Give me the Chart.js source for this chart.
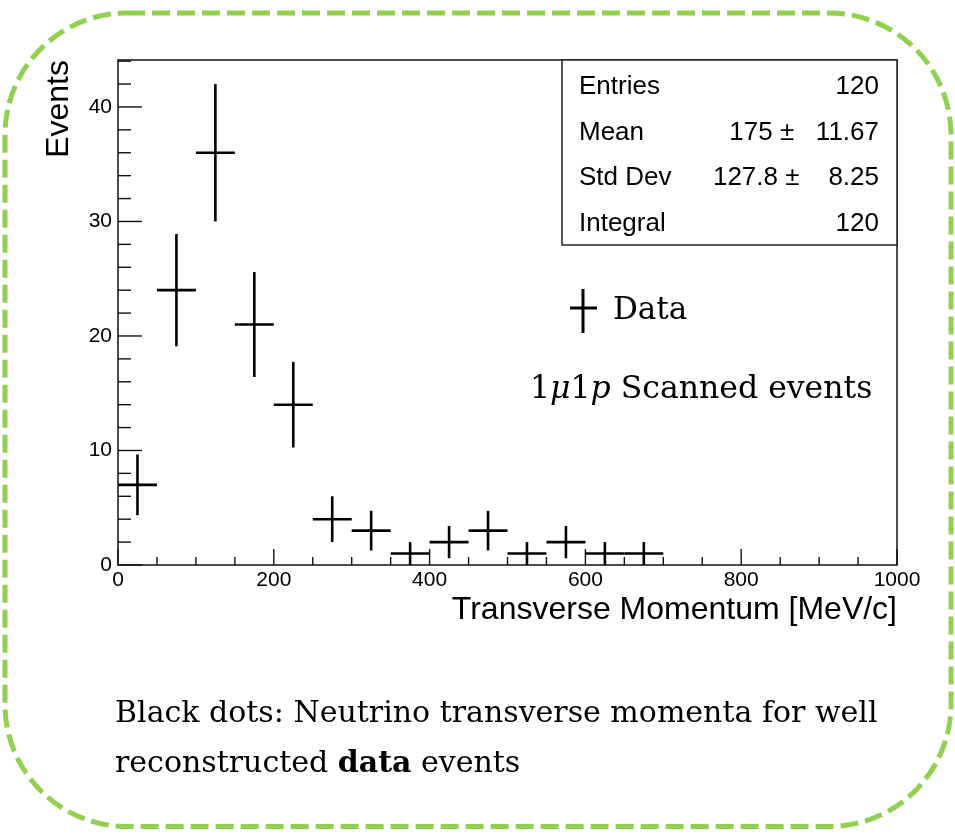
<!DOCTYPE html>
<html>
<head>
<meta charset="utf-8">
<script src="https://cdn.jsdelivr.net/npm/chart.js@4.4.0/dist/chart.umd.min.js"></script>
<style>
  html, body { margin: 0; padding: 0; background: #fff; }
  canvas { display: block; }
</style>
</head>
<body>
<canvas id="ptChart" width="955" height="834"></canvas>
<script>
// Transverse momentum histogram, 50 MeV/c bins
const binLow   = [0, 50, 100, 150, 200, 250, 300, 350, 400, 450, 500, 550, 600, 650];
const binHigh  = [50, 100, 150, 200, 250, 300, 350, 400, 450, 500, 550, 600, 650, 700];
const counts   = [7, 24, 36, 21, 14, 4, 3, 1, 2, 3, 1, 2, 1, 1];
const errors   = [2.65, 4.9, 6.0, 4.58, 3.74, 2.0, 1.73, 1.0, 1.41, 1.73, 1.0, 1.41, 1.0, 1.0];

const xTicks = [0, 200, 400, 600, 800, 1000];
const yTicks = [0, 10, 20, 30, 40];

// stats box rows; nbsp keeps the column padding
const statLabels = ['Entries', 'Mean', 'Std Dev', 'Integral'];
const statValues = ['120', '175 \u00b1\u00a0\u00a0\u00a011.67', '127.8 \u00b1\u00a0\u00a0\u00a0\u00a08.25', '120'];

const SANS = '"Liberation Sans", Arial, sans-serif';
const SERIF = '"DejaVu Serif", serif';

// dashed rounded border around the whole figure
function drawBorder(ctx) {
  const x0 = 5, y0 = 13, x1 = 951, y1 = 826.5, r = 122;
  ctx.save();
  ctx.strokeStyle = '#92d050';
  ctx.lineWidth = 5;
  ctx.setLineDash([18, 7]);
  ctx.beginPath();
  ctx.moveTo(x0 + r, y0);
  ctx.lineTo(x1 - r, y0);
  ctx.arcTo(x1, y0, x1, y0 + r, r);
  ctx.lineTo(x1, y1 - r);
  ctx.arcTo(x1, y1, x1 - r, y1, r);
  ctx.lineTo(x0 + r, y1);
  ctx.arcTo(x0, y1, x0, y1 - r, r);
  ctx.lineTo(x0, y0 + r);
  ctx.arcTo(x0, y0, x0 + r, y0, r);
  ctx.closePath();
  ctx.stroke();
  ctx.restore();
}

function line(ctx, ax, ay, bx, by) {
  ctx.beginPath();
  ctx.moveTo(ax, ay);
  ctx.lineTo(bx, by);
  ctx.stroke();
}

const rootStyle = {
  id: 'rootStyle',
  beforeDraw(chart) {
    drawBorder(chart.ctx);
  },
  afterDatasetsDraw(chart) {
    const { ctx, chartArea: a, scales: { x, y } } = chart;
    ctx.save();
    ctx.strokeStyle = '#111';
    ctx.fillStyle = '#000';

    // frame
    ctx.lineWidth = 1.5;
    ctx.strokeRect(a.left, a.top, a.right - a.left, a.bottom - a.top);

    // inward ticks, minor ones between the labelled values
    ctx.lineWidth = 1.4;
    for (let v = x.min; v <= x.max; v += 50) {
      const px = x.getPixelForValue(v);
      const len = xTicks.includes(v) ? 16 : 8;
      line(ctx, px, a.bottom, px, a.bottom - len);
    }
    for (let v = y.min; v <= y.max; v += 2) {
      const py = y.getPixelForValue(v);
      const len = yTicks.includes(v) ? 24 : 13;
      line(ctx, a.left, py, a.left + len, py);
    }

    // bin crosses: horizontal bar = bin width, vertical bar = error
    ctx.strokeStyle = '#000';
    ctx.lineWidth = 2.6;
    counts.forEach((c, i) => {
      const xl = x.getPixelForValue(binLow[i]);
      const xh = x.getPixelForValue(binHigh[i]);
      const xc = x.getPixelForValue((binLow[i] + binHigh[i]) / 2);
      const yc = y.getPixelForValue(c);
      line(ctx, xl, yc, xh, yc);
      line(ctx, xc, y.getPixelForValue(c - errors[i]), xc, y.getPixelForValue(c + errors[i]));
    });

    // statistics box
    const sx0 = 562, sy1 = 245;
    ctx.fillStyle = '#fff';
    ctx.fillRect(sx0, a.top, a.right - sx0, sy1 - a.top);
    ctx.strokeStyle = '#222';
    ctx.lineWidth = 1.5;
    ctx.strokeRect(sx0, a.top, a.right - sx0, sy1 - a.top);
    ctx.fillStyle = '#000';
    ctx.font = '26px ' + SANS;
    ctx.textBaseline = 'alphabetic';
    statLabels.forEach((lab, i) => {
      const by = 94 + i * 45.7;
      ctx.textAlign = 'left';
      ctx.fillText(lab, 579, by);
      ctx.textAlign = 'right';
      ctx.fillText(statValues[i], 879, by);
    });

    // legend entry
    ctx.strokeStyle = '#000';
    ctx.lineWidth = 3;
    line(ctx, 570, 308, 597, 308);
    line(ctx, 583, 289, 583, 333);
    ctx.textAlign = 'left';
    ctx.font = '31px ' + SERIF;
    ctx.fillText('Data', 613, 319);

    // sample label with math-italic symbols
    let tx = 530;
    const parts = [['1', ''], ['\u03bc', 'italic '], ['1', ''], ['p', 'italic '], [' Scanned events', '']];
    parts.forEach(([s, st]) => {
      ctx.font = st + '31.5px ' + SERIF;
      ctx.fillText(s, tx, 398);
      tx += ctx.measureText(s).width;
    });

    // caption under the plot
    ctx.font = '30px ' + SERIF;
    ctx.fillText('Black dots: Neutrino transverse momenta for well', 115, 722);
    tx = 115;
    [['reconstructed ', ''], ['data', 'bold '], [' events', '']].forEach(([s, st]) => {
      ctx.font = st + '30px ' + SERIF;
      ctx.fillText(s, tx, 772);
      tx += ctx.measureText(s).width;
    });

    ctx.restore();
  }
};

new Chart(document.getElementById('ptChart'), {
  type: 'scatter',
  data: {
    datasets: [{
      label: 'Data',
      data: counts.map((c, i) => ({ x: (binLow[i] + binHigh[i]) / 2, y: c })),
      pointRadius: 0,
      showLine: false
    }]
  },
  options: {
    responsive: false,
    animation: false,
    devicePixelRatio: 1,
    layout: { padding: { left: 0, top: 60, right: 58, bottom: 199 } },
    plugins: { legend: { display: false }, tooltip: { enabled: false } },
    scales: {
      x: {
        type: 'linear',
        min: 0,
        max: 1000,
        grid: { display: false, drawTicks: false },
        border: { display: false },
        afterBuildTicks: s => { s.ticks = xTicks.map(v => ({ value: v })); },
        afterFit: s => { s.height = 70; },
        ticks: {
          color: '#000',
          font: { family: SANS, size: 21 },
          padding: 3,
          maxRotation: 0,
          autoSkip: false,
          callback: v => String(v)
        },
        title: {
          display: true,
          text: 'Transverse Momentum [MeV/c]',
          align: 'end',
          color: '#000',
          font: { family: SANS, size: 32 },
          padding: { top: 0, bottom: 6 }
        }
      },
      y: {
        type: 'linear',
        min: 0,
        max: 44.1,
        grid: { display: false, drawTicks: false },
        border: { display: false },
        afterBuildTicks: s => { s.ticks = yTicks.map(v => ({ value: v })); },
        afterFit: s => { s.width = 118; },
        ticks: {
          color: '#000',
          font: { family: SANS, size: 21 },
          padding: 6,
          autoSkip: false,
          callback: v => String(v)
        },
        title: {
          display: true,
          text: 'Events',
          align: 'end',
          color: '#000',
          font: { family: SANS, size: 32 },
          padding: { top: 40, bottom: 0 }
        }
      }
    }
  },
  plugins: [rootStyle]
});
</script>
</body>
</html>
